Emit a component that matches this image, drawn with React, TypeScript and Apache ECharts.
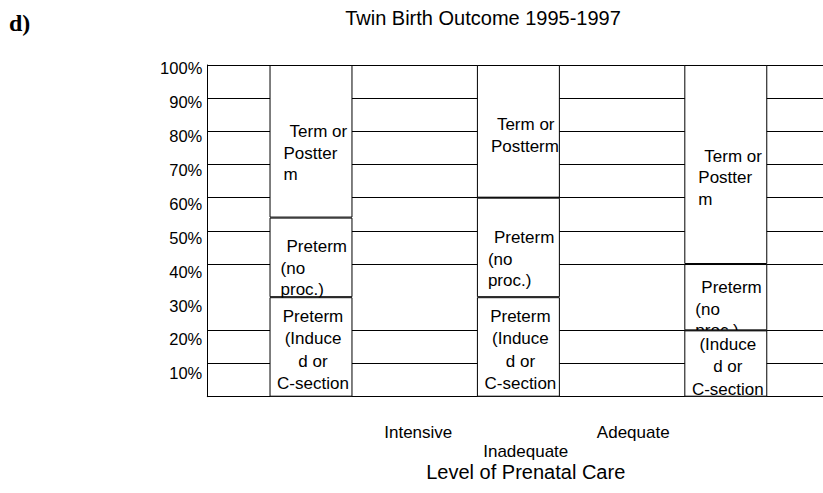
import React, { useEffect, useRef } from 'react';
import * as echarts from 'echarts';

// ---- data ----
const chartTitle = 'Twin Birth Outcome 1995-1997';
const panelTag = 'd)';
const axisTitle = 'Level of Prenatal Care';
const categories = ['Intensive', 'Inadequate', 'Adequate'];
const seriesNames = ['Preterm (Induced or C-section)', 'Preterm (no proc.)', 'Term or Postterm'];
const inducedValues = [30, 30, 20];
const pretermValues = [24, 30, 20];
const termValues = [46, 40, 60];
const yTickValues = [0, 10, 20, 30, 40, 50, 60, 70, 80, 90, 100];
const hiddenGridValues = [30];
// visible (wrapped) label text in each segment
const inducedText = [
  ['Preterm', '(Induce', 'd or', 'C-section'],
  ['Preterm', '(Induce', 'd or', 'C-section'],
  ['(Induce', 'd or', 'C-section'],
];
const pretermText = [
  ['Preterm', '(no', 'proc.)'],
  ['Preterm', '(no', 'proc.)'],
  ['Preterm', '(no', 'proc.)'],
];
const termText = [
  ['Term or', 'Postter', 'm'],
  ['Term or', 'Postterm'],
  ['Term or', 'Postter', 'm'],
];

// ---- styles ----
const FONT = '"Liberation Sans", Arial, Helvetica, sans-serif';
const INK = '#000';
const inducedShift = [3, 3, 3];
const pretermShift = [11, 12, 12];
const termShift = [12, 4, 13];

export default function App() {
  const ref = useRef<HTMLDivElement>(null);

  useEffect(() => {
    const chart = echarts.init(ref.current as HTMLDivElement, null, { renderer: 'svg' });
    const gridColors = yTickValues.map((v) => (hiddenGridValues.includes(v) ? 'rgba(0,0,0,0)' : INK));
    const rich = (lh: number) => ({
      first: { padding: [0, 0, 0, 6], fontSize: 17, lineHeight: lh, fontFamily: FONT, color: INK },
      rest: { fontSize: 17, lineHeight: lh, fontFamily: FONT, color: INK },
    });
    const richText = (lines: string[]) =>
      lines.map((l, i) => `{${i === 0 ? 'first' : 'rest'}|${l}}`).join('\n');
    const barStyle = { color: '#fff', borderColor: INK, borderWidth: 1 };

    const option: any = {
      animation: false,
      backgroundColor: '#fff',
      grid: [
        { left: 207.3, top: 65, width: 622.2, height: 331.7 },
        { left: 207.3, top: 68.3, width: 1, height: 338.9 },
        { left: 364.5, top: 400, width: 322.5, height: 20 },
      ],
      xAxis: [
        {
          gridIndex: 0, type: 'category', data: categories,
          axisLine: { show: true, lineStyle: { color: INK, width: 1 } },
          axisTick: { show: false }, axisLabel: { show: false },
        },
        { gridIndex: 1, type: 'value', min: 0, max: 1, show: false },
        {
          gridIndex: 2, type: 'category', data: categories,
          axisLine: { show: false }, axisTick: { show: false },
          axisLabel: {
            interval: 0, margin: 3, fontSize: 17, lineHeight: 19, color: INK, fontFamily: FONT,
            formatter: (v: string, i: number) => (i === 1 ? '\n' + v : v),
          },
          name: axisTitle, nameLocation: 'middle', nameGap: 41.5, nameMoveOverlap: false,
          nameTextStyle: { fontSize: 20, color: INK, fontFamily: FONT },
        },
      ],
      yAxis: [
        {
          gridIndex: 0, type: 'value', min: 0, max: 100, interval: 10,
          axisLine: { show: true, lineStyle: { color: INK, width: 1 } },
          axisTick: { show: false }, axisLabel: { show: false },
          splitLine: { show: true, lineStyle: { color: gridColors, width: 1 } },
        },
        {
          gridIndex: 1, type: 'value', min: 0, max: 100, interval: 10,
          axisLine: { show: false }, axisTick: { show: false }, splitLine: { show: false },
          axisLabel: {
            margin: 5, fontSize: 16.5, color: INK, fontFamily: FONT,
            formatter: (v: number) => (v === 0 ? '' : v + '%'),
          },
        },
        { gridIndex: 2, type: 'value', min: 0, max: 1, show: false },
      ],
      series: [
        {
          name: seriesNames[0], type: 'bar', stack: 'total', xAxisIndex: 0, yAxisIndex: 0,
          barWidth: '40%', z: 4, itemStyle: barStyle,
          label: { show: true, position: 'inside', align: 'center', color: INK, fontSize: 17, lineHeight: 22.5, fontFamily: FONT },
          data: inducedValues.map((v, i) => ({
            value: v,
            label: { formatter: inducedText[i].join('\n'), offset: [2, inducedShift[i]] },
          })),
        },
        {
          name: seriesNames[1], type: 'bar', stack: 'total', xAxisIndex: 0, yAxisIndex: 0,
          barWidth: '40%', z: 3, itemStyle: barStyle,
          label: { show: true, position: 'insideLeft', distance: 11, align: 'left', color: INK, fontSize: 17, lineHeight: 21.5, fontFamily: FONT, rich: rich(21.5) },
          data: pretermValues.map((v, i) => ({
            value: v,
            label: { formatter: richText(pretermText[i]), offset: [0, pretermShift[i]] },
          })),
        },
        {
          name: seriesNames[2], type: 'bar', stack: 'total', xAxisIndex: 0, yAxisIndex: 0,
          barWidth: '40%', z: 2, itemStyle: barStyle,
          label: { show: true, position: 'insideLeft', distance: 14, align: 'left', color: INK, fontSize: 17, lineHeight: 21.5, fontFamily: FONT, rich: rich(21.5) },
          data: termValues.map((v, i) => ({
            value: v,
            label: { formatter: richText(termText[i]), offset: [0, termShift[i]] },
          })),
        },
        // empty helper series so the label-only grids own a coordinate system
        { type: 'scatter', xAxisIndex: 1, yAxisIndex: 1, data: [], silent: true },
        { type: 'scatter', xAxisIndex: 2, yAxisIndex: 2, data: [], silent: true },
      ],
      graphic: [
        {
          type: 'text', x: 9, y: 23,
          style: {
            text: panelTag, fontSize: 24, fontWeight: 'bold',
            fontFamily: '"Liberation Serif", "Times New Roman", serif',
            fill: INK, align: 'left', verticalAlign: 'middle',
          },
        },
        {
          type: 'text', x: 483, y: 18,
          style: { text: chartTitle, fontSize: 20, fontFamily: FONT, fill: INK, align: 'center', verticalAlign: 'middle' },
        },
      ],
    };

    chart.setOption(option);
    return () => chart.dispose();
  }, []);

  return (
    <div ref={ref} style={{ position: 'fixed', left: 0, top: 0, width: 840, height: 493, background: '#fff' }} />
  );
}
